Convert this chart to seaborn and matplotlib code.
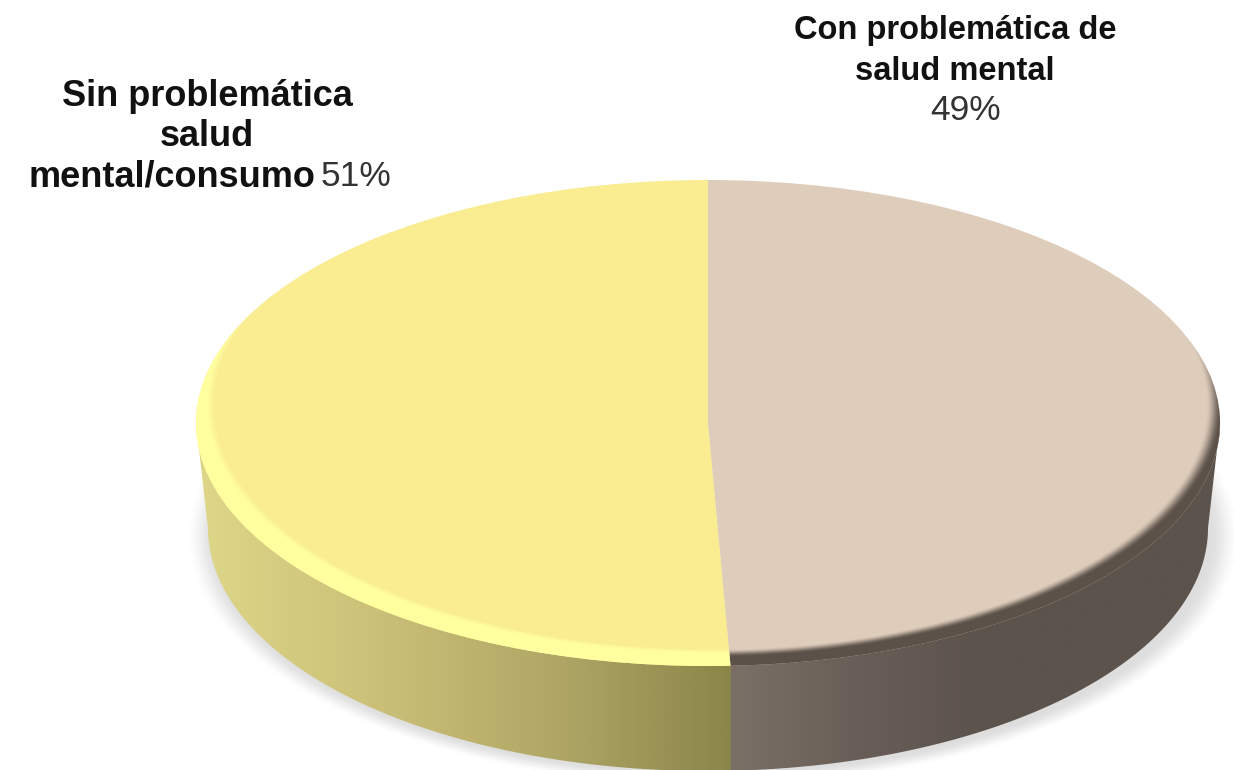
import numpy as np
import seaborn as sns
import matplotlib.pyplot as plt
from matplotlib.patches import Polygon

categories = ['Con problemática de\nsalud mental', 'Sin problemática\nsalud\nmental/consumo']
values = [49.3, 50.7]
value_labels = ['49%', '51%']
top_colors = ['#DFCDBC', '#FAEC91']

# chart geometry in image pixels
WIDTH, HEIGHT = 1234, 770
CX, CY, RX, RY = 708, 423, 512, 243
BOTTOM_RX, DEPTH = 500, 105
START_ANGLE = 90


def to_x(px):
    return (px - CX) / RX


def to_y(py):
    return (CY - py) / RY


def soft_step(t):
    t = np.clip(t, 0, 1)
    return t * t * (3 - 2 * t)


def draw_shadow(ax, xx, yy):
    d = np.sqrt(((xx - to_x(713)) / (522 / RX)) ** 2 + ((yy - to_y(CY + DEPTH + 8)) / (248 / RY)) ** 2)
    rgba = np.zeros(xx.shape + (4,))
    rgba[..., :3] = 0.35
    rgba[..., 3] = 0.2 * (1 - soft_step((d - 0.95) / 0.06))
    ax.imshow(rgba, extent=EXTENT, origin='upper', aspect='auto', zorder=1)


def draw_side(ax, split_theta):
    # lower half of the top ellipse, pulled in a bit so no seam shows, then the bottom ellipse
    theta = np.linspace(np.pi, 2 * np.pi, 300)
    upper = np.column_stack([np.cos(theta), 0.97 * np.sin(theta)])
    lower = np.column_stack([np.cos(theta) * BOTTOM_RX / RX, np.sin(theta) - DEPTH / RY])[::-1]
    side = Polygon(np.vstack([upper, lower]), closed=True, facecolor='none', edgecolor='none', zorder=2)
    ax.add_patch(side)

    split_x = np.cos(split_theta)
    left_cols = sns.blend_palette(['#DED688', '#CBC078', '#B0A766', '#8B8549'], n_colors=256)
    right_cols = sns.blend_palette(['#7A7066', '#695F58', '#5C534C', '#5C534C', '#5C534C'], n_colors=256)
    ramp = np.linspace(to_x(198), to_x(1222), WIDTH)
    strip = np.zeros((1, WIDTH, 3))
    for i, x in enumerate(ramp):
        if x < split_x:
            t = (x - ramp[0]) / (split_x - ramp[0])
            strip[0, i] = left_cols[int(t * 255)]
        else:
            t = (x - split_x) / (ramp[-1] - split_x)
            strip[0, i] = right_cols[int(t * 255)]
    im = ax.imshow(strip, extent=[ramp[0], ramp[-1], to_y(HEIGHT), to_y(300)], aspect='auto', zorder=2)
    im.set_clip_path(side)


def draw_bevel(ax, wedge, xx, yy, rim_rgb, start, soft):
    # inner ellipse sits higher than the top face, so the rim fades out towards the back
    d = np.sqrt(((xx - to_x(710)) / (500 / RX)) ** 2 + ((yy - to_y(405)) / (246 / RY)) ** 2)
    rgba = np.zeros(xx.shape + (4,))
    rgba[..., :3] = rim_rgb
    rgba[..., 3] = soft_step((d - start) / soft)
    im = ax.imshow(rgba, extent=EXTENT, origin='upper', aspect='auto', zorder=4)
    im.set_clip_path(wedge)


sns.set_theme(style='white')
plt.rcParams['font.family'] = ['Liberation Sans', 'DejaVu Sans']

fig = plt.figure(figsize=(WIDTH / 100, HEIGHT / 100), dpi=100)
ax = fig.add_axes([0, 0, 1, 1])

wedges, _ = ax.pie(values, colors=top_colors, startangle=START_ANGLE, counterclock=False,
                   radius=1, center=(0, 0), wedgeprops={'linewidth': 0, 'zorder': 3})

EXTENT = [to_x(0), to_x(WIDTH), to_y(HEIGHT), to_y(0)]
xs = to_x(np.arange(WIDTH) + 0.5)
ys = to_y(np.arange(HEIGHT) + 0.5)
xx, yy = np.meshgrid(xs, ys)

draw_shadow(ax, xx, yy)
split_theta = np.deg2rad(START_ANGLE - 360 * values[0] / sum(values))
draw_side(ax, split_theta)
draw_bevel(ax, wedges[0], xx, yy, (0.36, 0.32, 0.29), 0.992, 0.032)
draw_bevel(ax, wedges[1], xx, yy, (1.0, 1.0, 0.63), 0.988, 0.02)

ax.set_aspect('auto')
ax.set_xlim(to_x(0), to_x(WIDTH))
ax.set_ylim(to_y(HEIGHT), to_y(0))
ax.axis('off')

# labels
bold_right = dict(fontsize=23.5, fontweight='bold', color='#111111', va='center')
bold_left = dict(fontsize=26, fontweight='bold', color='#111111', va='center')
plain = dict(fontsize=25.5, color='#333333', va='center')
right_lines = categories[0].split('\n')
left_lines = categories[1].split('\n')
ax.text(to_x(955), to_y(31), right_lines[0], ha='center', **bold_right)
ax.text(to_x(955), to_y(71), right_lines[1], ha='center', **bold_right)
ax.text(to_x(966), to_y(110), value_labels[0], ha='center', **plain)
ax.text(to_x(207), to_y(97), left_lines[0], ha='center', **bold_left)
ax.text(to_x(207), to_y(137), left_lines[1], ha='center', **bold_left)
ax.text(to_x(315), to_y(177), left_lines[2], ha='right', **bold_left)
ax.text(to_x(321), to_y(177), value_labels[1], ha='left', **plain)

fig.savefig('out.png', dpi=100, facecolor='white')
